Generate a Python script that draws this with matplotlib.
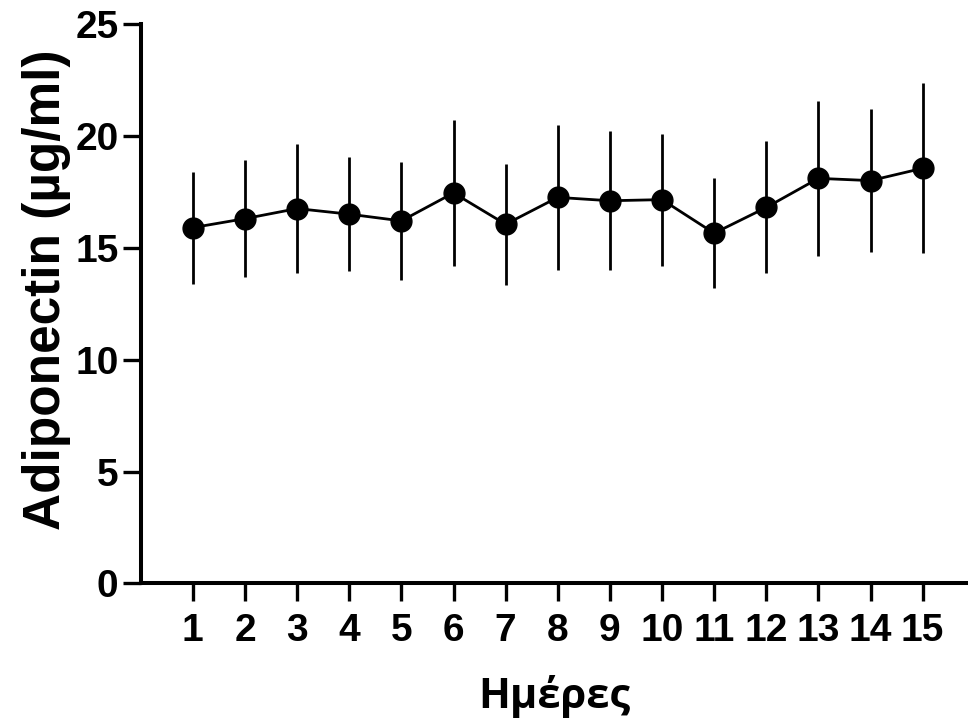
import numpy as np
import matplotlib
matplotlib.use("Agg")
import matplotlib.pyplot as plt

# data
days = np.arange(1, 16)
adiponectin_mean = [15.9, 16.3, 16.75, 16.5, 16.2, 17.45, 16.05, 17.25,
                    17.1, 17.15, 15.65, 16.8, 18.1, 18.0, 18.55]
adiponectin_sd = [2.5, 2.6, 2.9, 2.55, 2.65, 3.25, 2.7, 3.25,
                  3.1, 2.95, 2.45, 2.95, 3.45, 3.2, 3.8]
y_ticks = [0, 5, 10, 15, 20, 25]

plt.rcParams['font.family'] = ['Liberation Sans', 'DejaVu Sans']

fig = plt.figure(figsize=(9.68, 7.25), dpi=100)
ax = fig.add_axes([0.1454, 0.1952, 0.8546, 0.7718])

ax.errorbar(days, adiponectin_mean, yerr=adiponectin_sd, color='black',
            marker='o', markersize=15, linewidth=2, elinewidth=2,
            capsize=0, clip_on=False)

ax.set_xlim(0, 15.87)
ax.set_ylim(0, 25)
ax.set_xticks(days)
ax.set_yticks(y_ticks)

for side in ['top', 'right']:
    ax.spines[side].set_visible(False)
for side in ['left', 'bottom']:
    ax.spines[side].set_linewidth(2.9)

ax.tick_params(axis='both', length=13, width=2.4, direction='out',
               labelsize=28)
ax.tick_params(axis='y', pad=3)
ax.tick_params(axis='x', pad=8)
for lab in ax.get_xticklabels() + ax.get_yticklabels():
    lab.set_fontweight('bold')

# y label sits a bit above the axis centre in the original
fig.text(47 / 968, 1 - 290 / 725, 'Adiponectin (µg/ml)', rotation=90,
         ha='center', va='center', fontsize=37, fontweight='bold')
ax.set_xlabel('Ημέρες', fontsize=30, fontweight='bold',
              family=['Open Sans', 'DejaVu Sans'], labelpad=19)

plt.savefig('out.png', dpi=100)
